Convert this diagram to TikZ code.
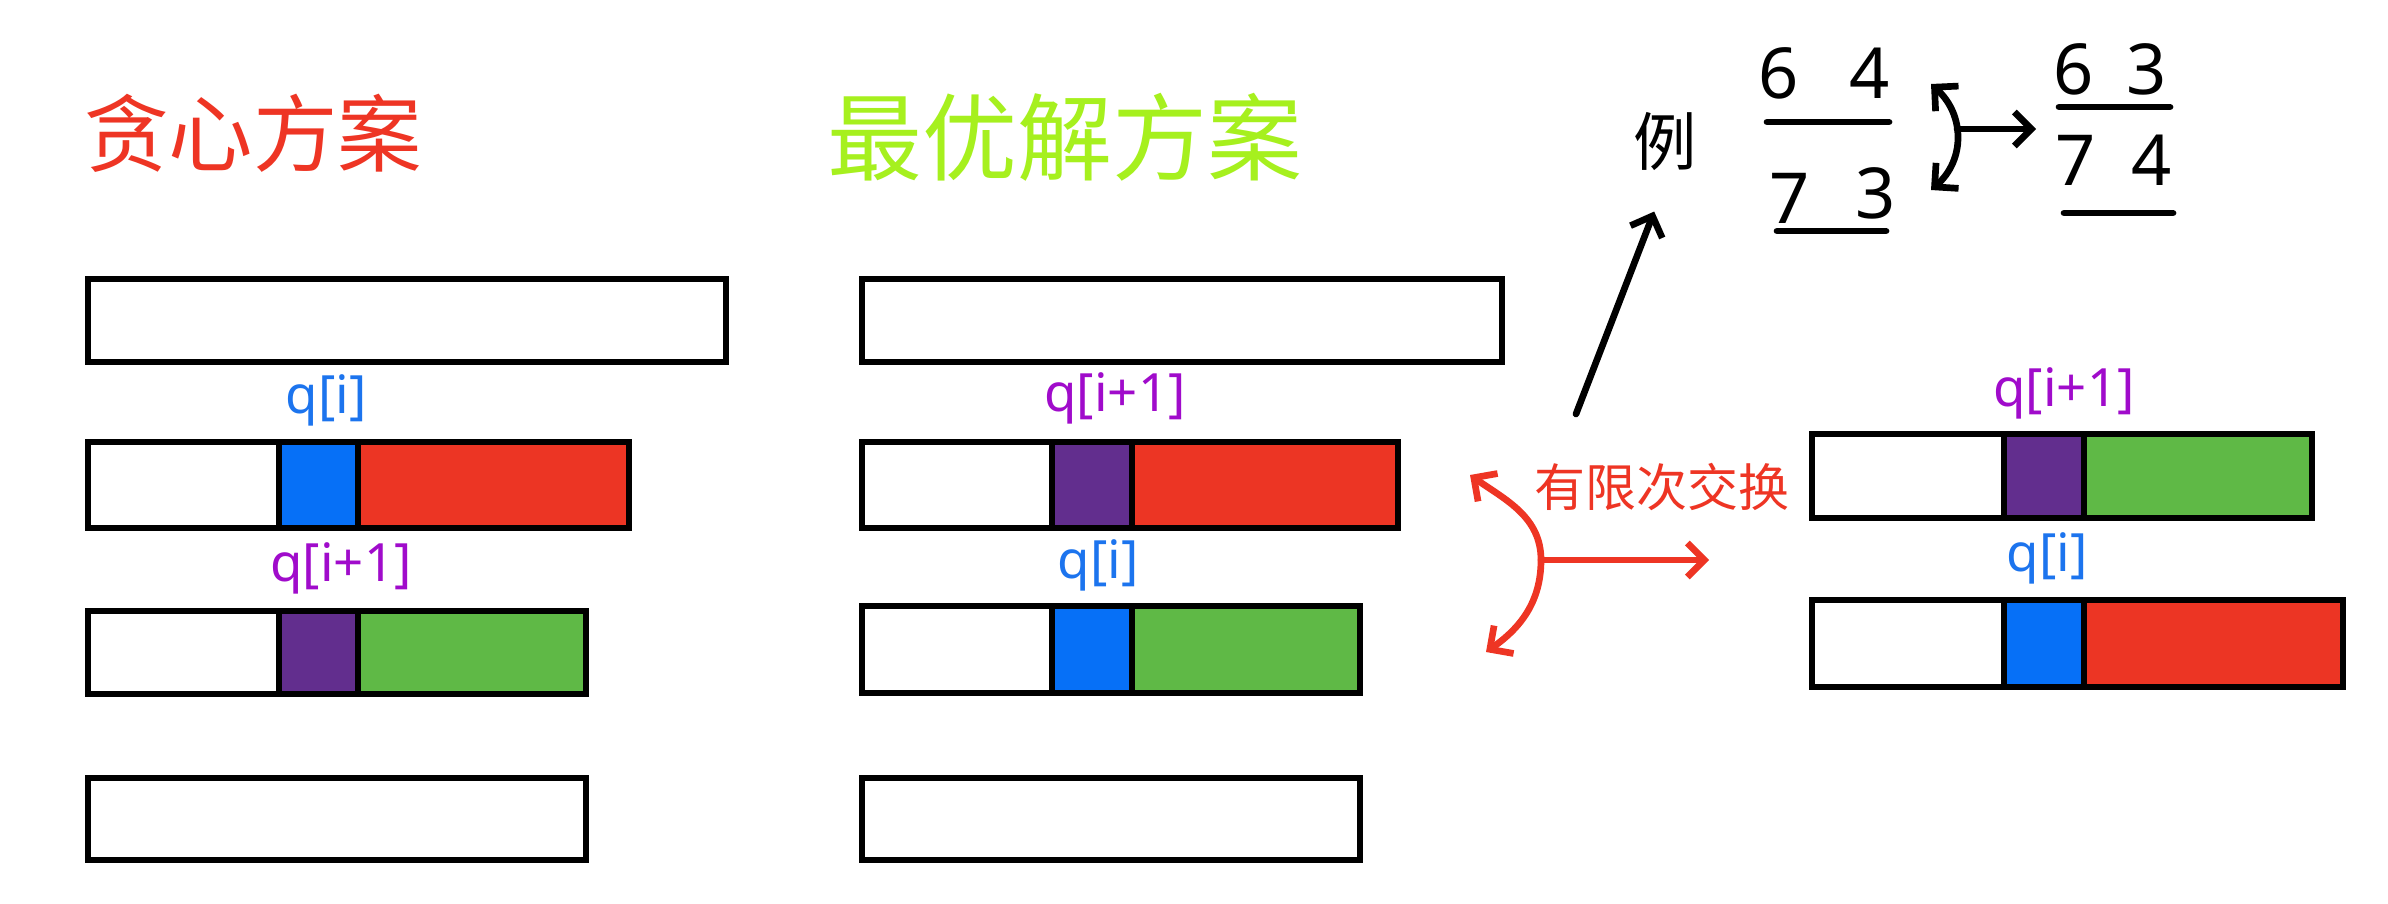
\documentclass[tikz,border=0pt]{standalone}
\usepackage{fontspec}
\setmainfont{Noto Sans}
\newfontfamily\cjk{Noto Sans CJK SC}
\usepackage{tikz}
\usetikzlibrary{arrows.meta,positioning}
\definecolor{tred}{HTML}{EE3524}
\definecolor{tgreen}{HTML}{A6F01E}
\definecolor{lblue}{HTML}{1C74EE}
\definecolor{lpurple}{HTML}{A00BCB}
\definecolor{qblue}{HTML}{0670F7}
\definecolor{qred}{HTML}{EC3524}
\definecolor{qpurple}{HTML}{622E8E}
\definecolor{qgreen}{HTML}{5FB946}

\begin{document}
\begin{tikzpicture}[x=0.01cm,y=-0.01cm]
\tikzstyle{bar}=[draw=black,line width=1.8pt]
\tikzstyle{lbl}=[font=\fontsize{15}{16}\selectfont,inner sep=0pt]
\tikzstyle{digit}=[font=\fontsize{20}{22}\selectfont,inner sep=1pt]
\tikzstyle{hand}=[line width=1.9pt,line cap=round,>={Straight Barb[length=1.7mm,width=3.4mm]}]
\tikzstyle{redhand}=[hand,draw=tred]
\fill[white] (0,0) rectangle (2388,903);
\useasboundingbox (0,0) rectangle (2388,903);

% titles
\node[font=\cjk\fontsize{24}{26}\selectfont,text=tred] (greedy) at (253,133) {贪心方案};
\node[font=\cjk\fontsize{27}{29}\selectfont,text=tgreen] (best) at (1065,137) {最优解方案};

% plain bars
\foreach \xa/\ya/\xb/\yb in {88/279/726/362, 88/778/586/860, 862/279/1502/362, 862/778/1360/860}
  \draw[bar] (\xa,\ya) rectangle (\xb,\yb);

% split bars
\foreach \xa/\xb/\xc/\xd/\ya/\yb/\ca/\cb in {88/279/358/629/442/528/qblue/qred,
    88/279/358/586/611/694/qpurple/qgreen,
    862/1052/1132/1398/442/528/qpurple/qred,
    862/1052/1132/1360/606/693/qblue/qgreen,
    1812/2004/2084/2312/434/518/qpurple/qgreen,
    1812/2004/2084/2343/600/687/qblue/qred}
{
  \fill[\ca] (\xb,\ya) rectangle (\xc,\yb);
  \fill[\cb] (\xc,\ya) rectangle (\xd,\yb);
  \draw[bar] (\xa,\ya) rectangle (\xd,\yb) (\xb,\ya) -- (\xb,\yb) (\xc,\ya) -- (\xc,\yb);
}

% labels
\node[lbl,text=lblue] (gi) at (326,400) {q[i]};
\node[lbl,text=lpurple] (gj) at (341,568) {q[i+1]};
\node[lbl,text=lpurple] (bj) at (1115,398) {q[i+1]};
\node[lbl,text=lblue] (bi) at (1098,565) {q[i]};
\node[lbl,text=lpurple] (sj) at (2064,393) {q[i+1]};
\node[lbl,text=lblue] (si) at (2047,558) {q[i]};

% swap arrows
\coordinate (up) at (1470,475);
\coordinate (mid) at (1541,560);
\coordinate (down) at (1486,652);
\coordinate (go) at (1709,560);
\draw[redhand,<->] (up) to[out=-35,in=90] (mid) to[out=-90,in=35] (down);
\draw[redhand,->] (mid) -- (go);
\node[font=\cjk\fontsize{14.5}{16}\selectfont,text=tred] (swap) at (1662,487) {有限次交换};

% example
\node[font=\cjk\fontsize{18}{20}\selectfont] (li) at (1665,142) {例};
\coordinate (tail) at (1576,414);
\draw[hand,->,shorten >=3mm] (tail) -- (li.south);
\node[digit] (a6) at (1779,73) {6};
\node[digit] (a4) at (1870,73) {4};
\node[digit] (a7) at (1790,198) {7};
\node[digit] (a3) at (1876,193) {3};
\draw[hand] (1767,122) -- (1889,122);
\draw[hand] (1777,231) -- (1886,231);
\coordinate (s1) at (1931,84);
\coordinate (s2) at (1931,190);
\draw[hand,<->] (s1) .. controls (1965,115) and (1965,160) .. (s2);
\coordinate (s3) at (1957,129);
\coordinate (s4) at (2036,129);
\draw[hand,->] (s3) -- (s4);
\node[digit] (b6) at (2074,69) {6};
\node[digit] (b3) at (2147,69) {3};
\node[digit] (b7) at (2076,160) {7};
\node[digit] (b4) at (2152,160) {4};
\draw[hand] (2059,107) -- (2170,107);
\draw[hand] (2064,213) -- (2173,213);
\end{tikzpicture}
\end{document}
